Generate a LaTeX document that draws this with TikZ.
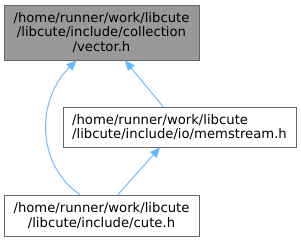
\documentclass[tikz,border=0pt]{standalone}
\usepackage{fontspec}
\setmainfont{DejaVu Sans}
\usetikzlibrary{arrows.meta}
\definecolor{edgeblue}{HTML}{63B8FF}
\definecolor{boxgray}{HTML}{999999}
\definecolor{boxborder}{HTML}{666666}
\begin{document}
\begin{tikzpicture}[x=1pt,y=-1pt,
  box/.style={draw=boxborder,line width=0.9pt,inner sep=0pt,font=\fontsize{13.2}{14.5}\selectfont},
  dep/.style={draw=edgeblue,line width=0.9pt,-{Triangle[length=10pt,width=8.5pt]}}]
\useasboundingbox[fill=white] (0,0) rectangle (301,241);
\node[box,fill=boxgray,minimum width=195pt,minimum height=55pt,align=center] (top) at (101.5,32.5)
  {/home/runner/work/libcute\\/libcute/include/collection\\/vector.h};
\node[box,fill=white,minimum width=233pt,minimum height=40pt,align=left] (mem) at (179.5,127)
  {/home/runner/work/libcute\\/libcute/include/io/memstream.h};
\node[box,fill=white,minimum width=195pt,minimum height=41pt,align=center] (cute) at (101.5,215.5)
  {/home/runner/work/libcute\\/libcute/include/cute.h};
\draw[dep] ([xshift=-21.5pt]cute.north) .. controls (36,165) and (36,100) .. ([xshift=-25pt]top.south);
\draw[dep] ([xshift=-16.5pt]mem.north) -- ([xshift=23.5pt]top.south);
\draw[dep] ([xshift=16.5pt]cute.north) -- ([xshift=-19.5pt]mem.south);
\end{tikzpicture}
\end{document}
